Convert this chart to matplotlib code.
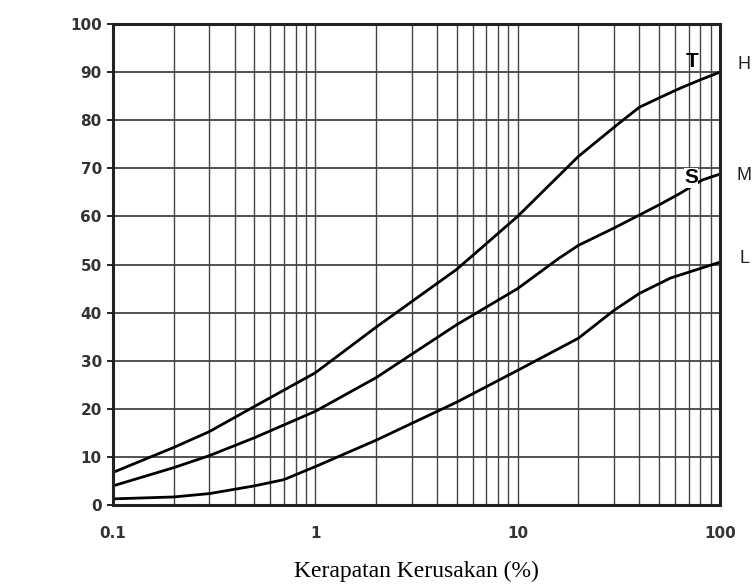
import numpy as np
import matplotlib.pyplot as plt
from matplotlib.ticker import LogLocator, FixedLocator, NullFormatter

# kerapatan kerusakan (%) vs nilai pengurangan
x_t = [0.1, 0.2, 0.3, 0.5, 1, 2, 5, 10, 20, 32, 40, 51, 64, 80, 100]
y_t = [6.8, 12, 15.3, 20.5, 27.5, 37, 49, 60, 72.5, 79.5, 82.7, 84.8, 86.7, 88.4, 90]

x_s = [0.1, 0.2, 0.3, 0.5, 1, 2, 5, 10, 16, 20, 30, 40, 50, 63, 82, 100]
y_s = [4, 7.8, 10.3, 14, 19.5, 26.5, 37.5, 45, 51.3, 54, 57.6, 60.3, 62.4, 64.7, 67.6, 68.8]

x_l = [0.1, 0.2, 0.3, 0.5, 0.7, 1, 2, 5, 10, 20, 30, 40, 57, 100]
y_l = [1.3, 1.7, 2.4, 4, 5.3, 8, 13.5, 21.4, 28, 34.7, 40.5, 44, 47.2, 50.5]

yticks = [0, 10, 20, 30, 40, 50, 60, 70, 80, 90, 100]
xticks = [0.1, 1, 10, 100]
xtick_labels = ["0.1", "1", "10", "100"]

fig = plt.figure(figsize=(7.53, 5.86), dpi=100)
ax = fig.add_axes([0.150, 0.138, 0.806, 0.821])

ax.set_xscale("log")
ax.set_xlim(0.1, 100)
ax.set_ylim(0, 100)

ax.xaxis.set_major_locator(FixedLocator(xticks))
ax.set_xticklabels(xtick_labels)
ax.xaxis.set_minor_locator(LogLocator(base=10, subs=np.arange(2, 10)))
ax.xaxis.set_minor_formatter(NullFormatter())
ax.set_yticks(yticks)

ax.grid(True, which="both", axis="x", color="#444444", lw=1.0)
ax.grid(True, which="major", axis="y", color="#444444", lw=1.3)
ax.set_axisbelow(True)

for s in ax.spines.values():
    s.set_linewidth(2.2)
    s.set_color("#222222")

ax.tick_params(axis="x", which="both", length=0, pad=15)
ax.tick_params(axis="y", length=4, width=1.2, pad=4)
for lab in ax.get_xticklabels() + ax.get_yticklabels():
    lab.set_fontfamily("DejaVu Sans")
    lab.set_fontweight("bold")
    lab.set_fontsize(11)
    lab.set_color("#333333")

ax.plot(x_t, y_t, color="black", lw=2.0, solid_capstyle="round", solid_joinstyle="round")
ax.plot(x_s, y_s, color="black", lw=2.0, solid_capstyle="round", solid_joinstyle="round")
ax.plot(x_l, y_l, color="black", lw=2.0, solid_capstyle="round", solid_joinstyle="round")

ax.text(73, 92.3, "T", fontsize=15, fontweight="bold", family="Liberation Sans",
        ha="center", va="center")
ax.text(72, 68, "S", fontsize=15, fontweight="bold", family="Liberation Sans",
        ha="center", va="center", bbox=dict(facecolor="white", edgecolor="none", pad=0.3))
ax.text(1.04, 0.915, "H", transform=ax.transAxes, fontsize=13, family="Liberation Sans",
        ha="center", va="center", color="#222222")
ax.text(1.04, 0.686, "M", transform=ax.transAxes, fontsize=13, family="Liberation Sans",
        ha="center", va="center", color="#222222")
ax.text(1.04, 0.513, "L", transform=ax.transAxes, fontsize=13, family="Liberation Sans",
        ha="center", va="center", color="#222222")

ax.set_xlabel("Kerapatan Kerusakan (%)", family="Liberation Serif", fontsize=17,
              labelpad=14)

plt.savefig("out.png", dpi=100)
